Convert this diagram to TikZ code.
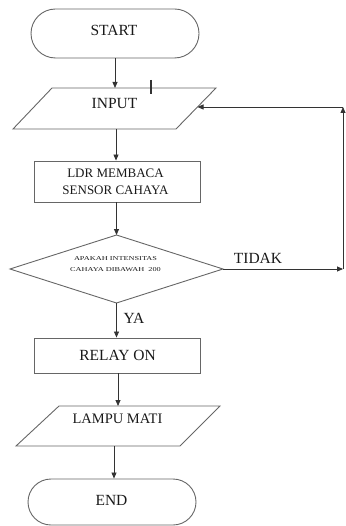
\documentclass[tikz,border=0pt]{standalone}
\usepackage{fontspec}
\usepackage{graphicx}
\setmainfont{Liberation Serif}
\usetikzlibrary{arrows.meta,shapes.misc}
\begin{document}
\begin{tikzpicture}[x=1pt,y=-1pt,
  shapeline/.style={draw=black!60, line width=0.9pt},
  term/.style={shapeline, rounded rectangle, minimum width=168pt, minimum height=49pt, inner sep=0pt},
  procbox/.style={shapeline, rectangle, minimum width=166pt, inner sep=0pt},
  lbl/.style={text=black!90, inner sep=0pt, font=\fontsize{15.5}{18}\selectfont},
  arr/.style={draw=black!80, line width=0.8pt, -{Triangle[length=6pt,width=5pt]}}]

\useasboundingbox (0,0) rectangle (345,526);

% START
\node[term] (start) at (115,33.5) {};
\node[lbl] (starttxt) at (114,30.5) {START};

% INPUT
\draw[shapeline] (52,88) -- (216,88) -- (176,129) -- (13,129) -- cycle;
\coordinate (intop) at (115,88);
\coordinate (inbot) at (116,129);
\coordinate (inright) at (197.5,107);
\node[lbl] (input) at (114.5,103.5) {INPUT};
\coordinate (tickA) at (151,80);
\coordinate (tickB) at (151,94);
\draw[black!80, line width=1.4pt] (tickA) -- (tickB);

% LDR
\node[procbox, minimum height=41pt] (ldr) at (117,181.5) {};
\node[lbl, font=\fontsize{13}{17}\selectfont, align=center] (ldrtxt) at (115.5,181.5) {LDR MEMBACA\\SENSOR CAHAYA};

% Decision
\draw[shapeline] (10,269) -- (116.5,235) -- (223,269) -- (116.5,303) -- cycle;
\coordinate (dtop) at (116.5,235);
\coordinate (dbot) at (116.5,303);
\coordinate (dright) at (223,269);
\node[lbl, font=\fontsize{6}{11}\selectfont, align=center] (q) at (115.5,264.5)
  {\scalebox{1.38}[1]{APAKAH INTENSITAS}\\\scalebox{1.38}[1]{CAHAYA DIBAWAH\ \ 200}};
\node[lbl] (tidak) at (258,258) {TIDAK};
\node[lbl] (ya) at (134,318.5) {YA};

% RELAY
\node[procbox, minimum height=35pt] (relay) at (117,355.5) {};
\node[lbl] (relaytxt) at (117.5,355) {RELAY ON};

% LAMPU
\draw[shapeline] (59,406) -- (220,406) -- (180,446) -- (16,446) -- cycle;
\coordinate (ltop) at (118,406);
\coordinate (lbot) at (114,446);
\node[lbl, font=\fontsize{14.5}{17}\selectfont] (lampu) at (117.5,418.5) {LAMPU MATI};

% END
\node[term, minimum height=46pt] (end) at (112,502) {};
\node[lbl] (endtxt) at (111.5,500.5) {END};

% connectors
\coordinate (rc1) at (343,269);
\coordinate (rc2) at (343,107);
\draw[arr] (start.south -| intop) -- (intop);
\draw[arr] (inbot) -- (inbot |- ldr.north);
\draw[arr] (dtop |- ldr.south) -- (dtop);
\draw[arr] (dbot) -- (dbot |- relay.north);
\draw[arr] (ltop |- relay.south) -- (ltop);
\draw[arr] (lbot) -- (lbot |- end.north);
\draw[arr] (dright) -- (rc1);
\draw[arr] (rc1) -- (rc2);
\draw[arr] (rc2) -- (inright);
\end{tikzpicture}
\end{document}
